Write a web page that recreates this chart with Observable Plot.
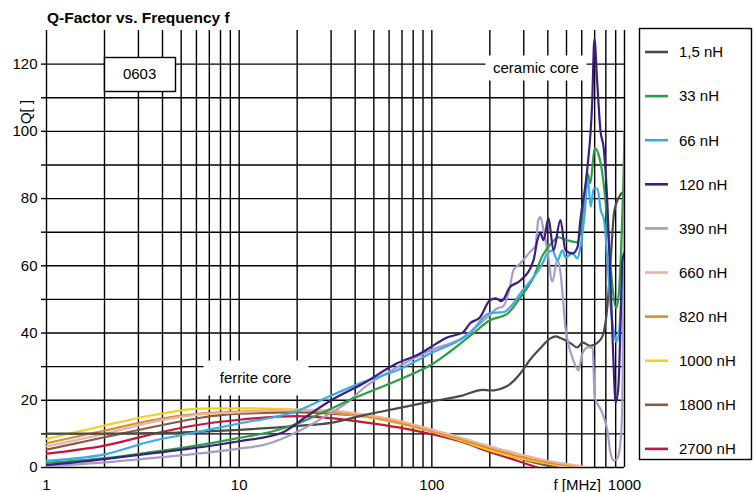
<!DOCTYPE html>
<html><head><meta charset="utf-8">
<script src="https://cdn.jsdelivr.net/npm/d3@7"></script>
<script src="https://cdn.jsdelivr.net/npm/@observablehq/plot@0.6"></script>
<style>
html,body{margin:0;padding:0;background:#fff;}
#chart{position:relative;width:753px;height:492px;}
</style></head><body><div id="chart"></div>
<script>
// ---------- data ----------
const seriesNames = ["1,5 nH", "33 nH", "66 nH", "120 nH", "390 nH", "660 nH", "820 nH", "1000 nH", "1800 nH", "2700 nH"];
const seriesColors = ["#4b4b43", "#2aa043", "#3aabea", "#3b1e84", "#a79bca", "#eab3aa", "#e08a2e", "#f2d11a", "#8b5a3d", "#c8153b"];

const f_1_5 = [1, 2, 3.5, 6, 10, 20, 30, 44, 66, 98, 144, 184, 200, 245, 290, 322, 366, 412, 440, 465, 524, 570, 605, 665, 720, 768, 815, 848, 884, 938, 995, 1000];
const q_1_5 = [10.1, 10.1, 10.2, 10.6, 11.2, 12.4, 13.3, 15.5, 17.6, 19.6, 21.4, 23.1, 22.9, 24.2, 28.2, 31.9, 35.5, 38.4, 39, 38.5, 37, 35.7, 37.2, 36.2, 37, 39, 48, 62, 76, 80.5, 82, 82];

const f_33 = [1, 2, 3.5, 5, 10, 15, 20, 30, 39, 66, 98, 164, 200, 245, 288, 337, 375, 422, 454, 505, 570, 590, 620, 642, 665, 700, 740, 790, 825, 860, 905, 935, 965, 995, 1000];
const q_33 = [1.4, 2.8, 4.6, 5.8, 8.8, 10.8, 13, 17.5, 20.5, 25.9, 30.4, 39.9, 43.8, 45.6, 50.6, 56.6, 63, 67, 68.5, 67.6, 67, 70, 80, 87.5, 84.6, 95, 92.3, 81.5, 68.5, 55.6, 47.5, 51.8, 68.5, 93.4, 100];

const f_66 = [1, 2, 3.5, 6, 10, 20, 30, 44, 66, 98, 157, 200, 235, 265, 288, 337, 375, 398, 422, 449, 476, 494, 537, 570, 590, 620, 645, 668, 692, 723, 753, 784, 815, 848, 884, 907, 938, 975, 1000];
const q_66 = [2, 3.9, 7.8, 10.5, 13.1, 16.8, 21.4, 25.4, 28.9, 33.9, 39.9, 45.9, 46.2, 48.8, 51.8, 56.6, 60.7, 63.7, 64.6, 61.6, 64.6, 62.5, 63.7, 62.2, 65.5, 75, 86, 77.5, 83, 83, 76.5, 73.5, 61.6, 47.7, 39.8, 37.3, 40.8, 55.6, 60];

const f_120 = [1, 2, 3.5, 5, 10, 16.9, 21.5, 30, 44, 66, 87, 98, 120, 145, 158, 178, 200, 215, 230, 254, 288, 337, 353, 366, 380, 403, 428, 465, 494, 537, 570, 590, 640, 679, 698, 721, 750, 780, 815, 848, 873, 900, 929, 955, 975, 1000];
const q_120 = [0.7, 2.5, 4.2, 5.3, 7.8, 10.5, 14.5, 20, 25, 31, 33.9, 35.7, 38.7, 40.2, 42.9, 44.7, 49.7, 50.3, 49.5, 53.6, 55.6, 61.6, 67.6, 69.7, 67.6, 74.2, 64.6, 73.6, 64.6, 63.7, 65.5, 73.6, 88.4, 108, 127.5, 115, 100.3, 95, 78.5, 53.5, 34, 19.3, 23.8, 43.7, 61.6, 64];

const f_390 = [1, 2, 3.5, 5, 10, 14, 20.7, 28.5, 37.6, 44, 66, 98, 145, 194, 218, 235, 254, 265, 288, 325, 345, 357, 366, 380, 398, 422, 449, 465, 494, 543, 577, 605, 650, 684, 700, 720, 770, 815, 848, 884, 918, 955, 975, 990, 1000];
const q_390 = [0.3, 1.5, 2.8, 3.6, 5.6, 7, 11, 15.5, 20, 23.5, 29.8, 34.8, 38.7, 44.7, 47.3, 48, 53.6, 58.7, 60.7, 64.3, 66, 73.6, 74.5, 70.6, 64.6, 55.3, 62, 58, 41.7, 31.9, 28.9, 34, 35.8, 35.5, 21, 19.3, 16, 11, 4, 2, 2.7, 8, 20, 60, 100];

const f_660 = [1, 2, 3.9, 6.3, 10, 20, 30, 44, 66, 98, 145, 200, 275, 400, 665];
const q_660 = [6.3, 10, 14, 15.8, 16.4, 17.2, 16.9, 15.8, 14, 11.4, 8.7, 6.3, 4.2, 2, 0];

const f_820 = [1, 2, 3.9, 6.3, 10, 20, 30, 44, 66, 98, 145, 200, 275, 400, 620];
const q_820 = [7.2, 11, 14.5, 16, 16.6, 17, 16.5, 15.4, 13.5, 11, 8.2, 5.8, 3.5, 1.5, 0];

const f_1000 = [1, 2, 3.9, 6.3, 10, 20, 30, 44, 66, 98, 145, 200, 275, 400, 590];
const q_1000 = [8.5, 12.5, 16, 17.5, 17.6, 17.2, 16.4, 15.2, 13.2, 10.8, 7.8, 5.1, 3, 1.2, 0];

const f_1800 = [1, 2, 3.9, 6.3, 10, 20, 30, 44, 66, 98, 145, 200, 275, 350, 449];
const q_1800 = [5.3, 9, 12.5, 14.8, 16, 16.4, 16, 15.2, 13.5, 11, 8.3, 5.6, 3, 1.3, 0];

const f_2700 = [1, 2, 3.9, 6.3, 10, 20, 30, 44, 66, 98, 145, 200, 275, 353];
const q_2700 = [4.1, 6.5, 10.5, 12.8, 14.2, 15.3, 14.7, 13.5, 12, 10, 7.5, 4.6, 2.1, 0];

const xTickValues = [1, 10, 100, 1000];
const yTickValues = [0, 10, 20, 30, 40, 50, 60, 70, 80, 90, 100, 110, 120];

const chartTitle = "Q-Factor vs. Frequency f";
const yTitle = "Q[ ]";
const xTitle = "f [MHz]";
const notes = ["0603", "ceramic core", "ferrite core"];

// ---------- build ----------
const freqs = [f_1_5, f_33, f_66, f_120, f_390, f_660, f_820, f_1000, f_1800, f_2700];
const qs = [q_1_5, q_33, q_66, q_120, q_390, q_660, q_820, q_1000, q_1800, q_2700];
const drawOrder = [9, 8, 7, 6, 5, 0, 4, 1, 2, 3];
const rows = [];
drawOrder.forEach(i => freqs[i].forEach((f, j) => rows.push({name: seriesNames[i], f, q: qs[i][j]})));

const xGrid = [];
for (const d of [1, 10, 100]) for (let k = 1; k <= 9; k++) xGrid.push(d * k);
xGrid.push(1000);

const FONT = "'Liberation Sans', Arial, Helvetica, sans-serif";

const plot = Plot.plot({
  width: 753, height: 492,
  marginLeft: 46, marginRight: 129, marginTop: 30, marginBottom: 25,
  style: {fontFamily: FONT, fontSize: "15px", color: "#000", background: "#fff", overflow: "visible"},
  x: {type: "log", domain: [1, 1000], label: null},
  y: {domain: [0, 130], label: null},
  color: {domain: seriesNames, range: seriesColors},
  marks: [
    Plot.ruleX(xGrid, {stroke: "#000", strokeWidth: 1.4}),
    Plot.ruleY(yTickValues, {stroke: "#000", strokeWidth: 1.4}),
    Plot.axisY({ticks: yTickValues, tickSize: 5, tickPadding: 4, strokeWidth: 1.4, tickFormat: d => d % 20 === 0 ? String(d) : "", label: null, fontSize: 15}),
    Plot.axisX({ticks: xTickValues, tickSize: 0, tickPadding: 12, tickFormat: d => String(d), label: null, fontSize: 15}),
    Plot.line(rows, {x: "f", y: "q", z: "name", stroke: "name", strokeWidth: 2.2, curve: "monotone-x", clip: true})
  ]
});
document.getElementById("chart").appendChild(plot);

const svg = d3.select(plot);
const sx = plot.scale("x"), sy = plot.scale("y");

// annotation boxes (under the curves)
const annos = [
  {text: notes[0], f: 3.06, q: 116.9, w: 71, h: 34, border: true},
  {text: notes[1], f: 349, q: 118.8, w: 101, h: 25, border: false},
  {text: notes[2], f: 12.24, q: 26.6, w: 105, h: 35, border: false}
];
const lineG = plot.querySelector('g[aria-label="line"]');
const annG = document.createElementNS("http://www.w3.org/2000/svg", "g");
plot.insertBefore(annG, lineG);
for (const a of annos) {
  const cx = sx.apply(a.f), cy = sy.apply(a.q);
  d3.select(annG).append("rect")
    .attr("x", Math.round(cx - a.w / 2) + 0.5).attr("y", Math.round(cy - a.h / 2) + 0.5)
    .attr("width", a.w).attr("height", a.h)
    .attr("fill", "#fff").attr("stroke", a.border ? "#000" : "none").attr("stroke-width", 1.4);
  d3.select(annG).append("text")
    .attr("x", cx).attr("y", cy + 5.3).attr("text-anchor", "middle")
    .attr("font-family", FONT).attr("font-size", 15).attr("fill", "#000").text(a.text);
}

// titles
svg.append("text").attr("x", 47).attr("y", 22.5).attr("text-anchor", "start").attr("font-family", FONT)
  .attr("font-size", 15.5).attr("font-weight", "bold").attr("fill", "#000").text(chartTitle);
svg.append("text").attr("transform", "translate(31,112) rotate(-90)").attr("text-anchor", "middle")
  .attr("font-family", FONT).attr("font-size", 15).attr("fill", "#000").text(yTitle);
svg.append("text").attr("x", 601).attr("y", 489.6).attr("text-anchor", "end")
  .attr("font-family", FONT).attr("font-size", 15).attr("fill", "#000").text(xTitle);

// legend
const lg = svg.append("g");
lg.append("rect").attr("x", 639.5).attr("y", 28.5).attr("width", 112).attr("height", 431)
  .attr("fill", "#fff").attr("stroke", "#000").attr("stroke-width", 1.4);
seriesNames.forEach((n, i) => {
  const cy = 52 + 44.1 * i;
  lg.append("line").attr("x1", 645).attr("x2", 668).attr("y1", cy).attr("y2", cy)
    .attr("stroke", seriesColors[i]).attr("stroke-width", 2.6);
  lg.append("text").attr("x", 679).attr("y", cy + 5.3).attr("text-anchor", "start").attr("font-family", FONT)
    .attr("font-size", 15).attr("fill", "#000").text(n);
});
</script></body></html>
